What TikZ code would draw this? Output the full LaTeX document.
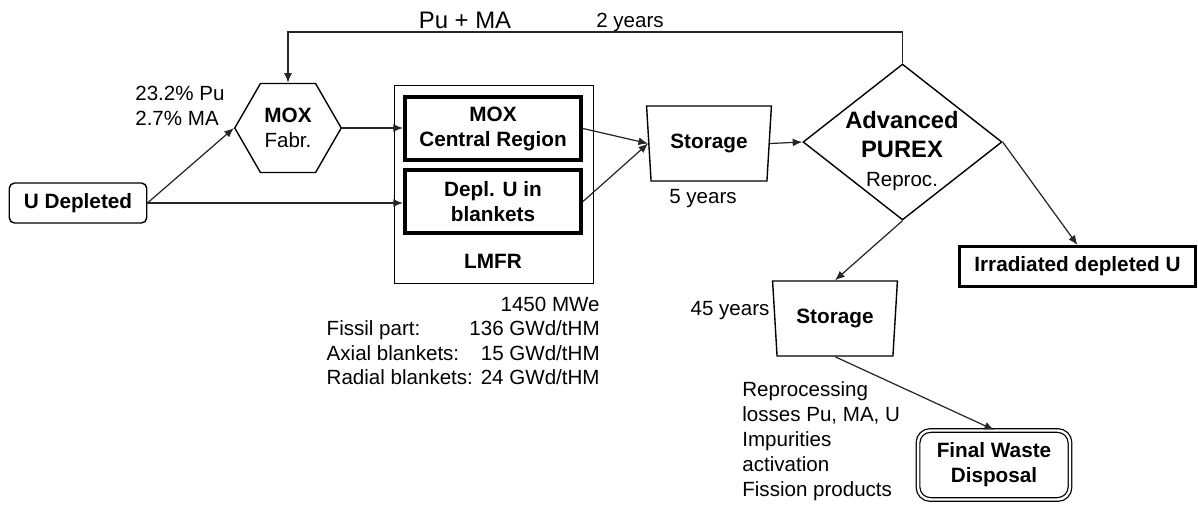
\documentclass[tikz,border=0pt]{standalone}
\usepackage{fontspec}
\setmainfont{Liberation Sans}
\usetikzlibrary{shapes.geometric,shapes.symbols,arrows.meta}
\tikzset{
  flow/.style={-{Latex[length=5.5pt,width=4.5pt]},line width=0.7pt,draw=black!85},
  core/.style={draw,line width=2pt,minimum width=3.53cm,minimum height=1.27cm,align=center,inner sep=0pt},
  storebox/.style={draw,line width=0.8pt,trapezium,shape border rotate=180,trapezium stretches=true,
    trapezium left angle=81,trapezium right angle=81,minimum width=2.5cm,minimum height=1.5cm,inner sep=0pt},
}
\newcommand{\bsz}{\fontsize{11.8}{14.2}\selectfont\bfseries}
\newcommand{\rrow}[2]{\makebox[2.7cm][l]{#1}\makebox[2.76cm][r]{#2}}
\begin{document}
\begin{tikzpicture}[x=0.02cm,y=-0.02cm,font=\fontsize{11.7}{14.2}\selectfont]
\useasboundingbox (0,0) rectangle (1198,508);
% input and fabrication
\node[draw,line width=0.8pt,rounded corners=3pt,minimum width=2.75cm,minimum height=0.8cm,inner sep=0pt] (udep) at (78,203) {\bsz U Depleted};
\node[draw,line width=0.8pt,signal,signal to=west and east,signal pointer angle=120,minimum width=2.13cm,minimum height=1.78cm,inner sep=0pt,align=center] (mox) at (288,128) {{\bsz MOX}\\Fabr.};
\node[align=left,anchor=north west,inner sep=0pt] (mix) at (135,86) {23.2\% Pu\\2.7\% MA};
% reactor
\node[draw,line width=0.8pt,minimum width=3.98cm,minimum height=3.96cm] (lmfr) at (494,184.5) {};
\node[core] (central) at (493,128.5) {\bsz MOX\\\bsz Central Region};
\node[core] (blanket) at (493,201.5) {\bsz Depl. U in\\\bsz blankets};
\node[anchor=base] (lmfrname) at (493,268) {\bsz LMFR};
\node[anchor=north east,inner sep=0pt,align=right,font=\fontsize{11.7}{13.8}\selectfont] (rating) at (600,297) {%
  1450 MWe\hspace{4pt}\\
  \rrow{Fissil part:}{136 GWd/tHM}\\
  \rrow{Axial blankets:}{15 GWd/tHM}\\
  \rrow{Radial blankets:}{24 GWd/tHM}};
% cooling and reprocessing
\node[storebox] (store1) at (709,143.5) {\bsz Storage};
\node[anchor=base] (cool5) at (703,203) {5 years};
\node[draw,line width=0.8pt,diamond,minimum width=3.98cm,minimum height=3.12cm,inner sep=0pt] (purex) at (902.5,142) {};
\node[align=center,font=\fontsize{13.5}{16.5}\selectfont\bfseries] (purextxt) at (902,151) {Advanced\\PUREX\\\mdseries\fontsize{11.7}{14}\selectfont Reproc.};
\node[draw,line width=1.7pt,minimum width=4.72cm,minimum height=0.8cm,inner sep=0pt] (irr) at (1077.5,266.5) {\bsz Irradiated depleted U};
\node[storebox] (store2) at (835,318.5) {\bsz Storage};
\node[anchor=base] (cool45) at (730,315) {45 years};
\node[align=left,anchor=north west,inner sep=0pt] (losses) at (742,381) {Reprocessing\\losses Pu, MA, U\\Impurities\\activation\\Fission products};
\node[draw,line width=0.7pt,double,double distance=1.4pt,rounded corners=7pt,minimum width=3.04cm,minimum height=1.38cm,inner sep=0pt,align=center] (waste) at (994,465) {\bsz Final Waste\\\bsz Disposal};
% recycling loop
\coordinate (loop) at (0,32);
\node[anchor=base,font=\fontsize{13.6}{16}\selectfont] (pums) at (465,28) {Pu + MA};
\node[anchor=base] (cool2) at (630,27) {2 years};
% flows
\draw[flow] (purex.north) |- (loop -| mox.north) -- (mox.north);
\draw[flow] (udep.east) -- (mox.west);
\draw[flow] (udep.east) -- (udep.east -| blanket.west);
\draw[flow] (mox.east) -- (mox.east -| central.west);
\draw[flow] (central.east) -- (store1.west);
\draw[flow] (blanket.east) -- (store1.west);
\draw[flow] (store1.east) -- (purex.west);
\draw[flow] (purex.east) -- (irr.north);
\draw[flow] (purex.south) -- (store2.north);
\draw[flow] (store2.south) -- (waste.north);
\end{tikzpicture}
\end{document}
